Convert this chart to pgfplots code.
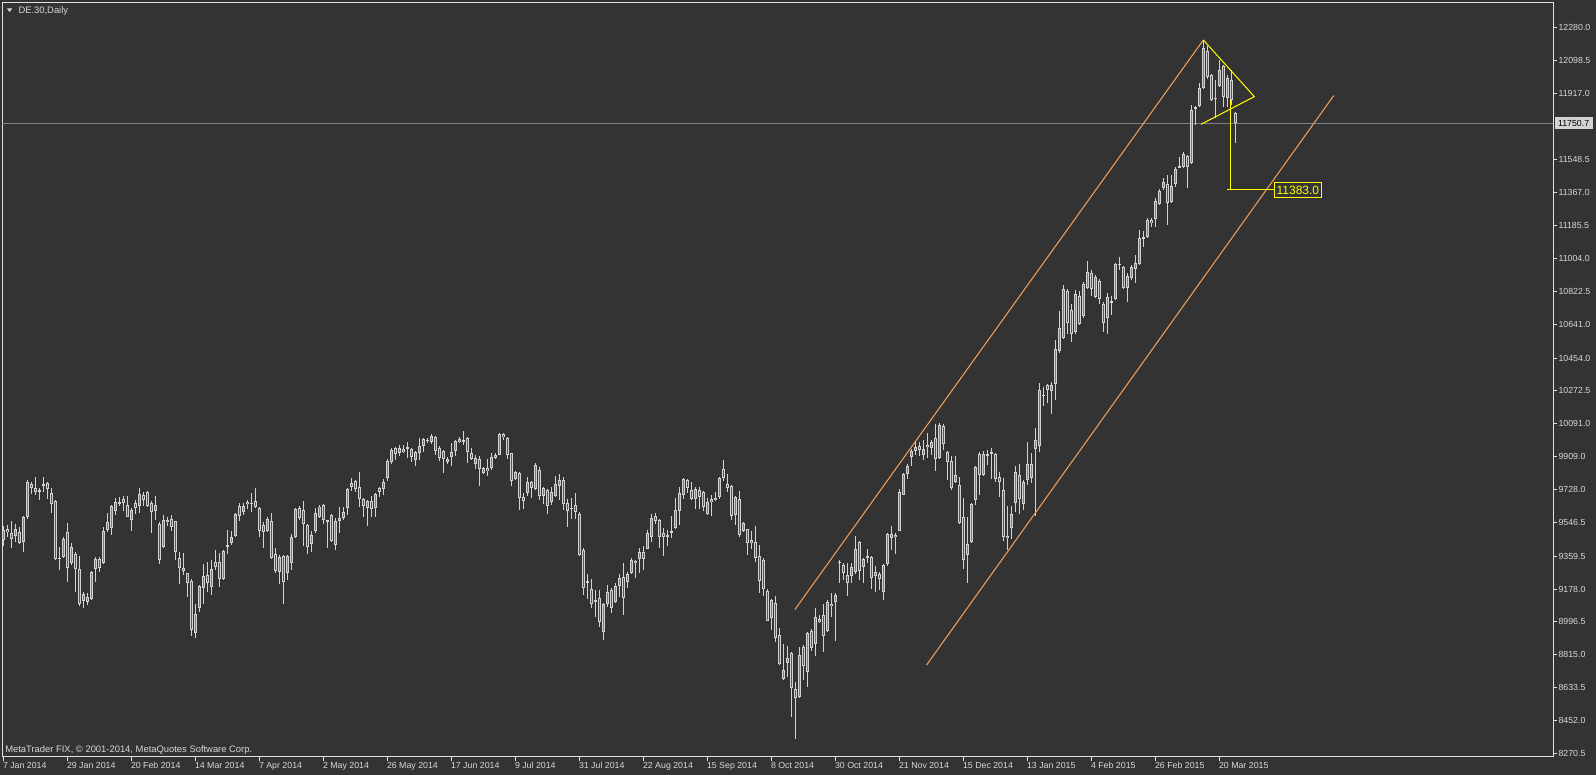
\documentclass[border=0pt]{standalone}
\usepackage{pgfplots}
\usepackage{pgfplotstable}
\usepackage{fontspec}
\setmainfont{Liberation Sans}
\pgfplotsset{compat=1.18}
\definecolor{bg}{HTML}{333333}
\definecolor{fg}{HTML}{D8D8D8}
\definecolor{frame}{HTML}{E0E0E0}
\definecolor{cgray}{HTML}{D3D3D3}
\definecolor{cblue}{HTML}{1E90FF}
\definecolor{cred}{HTML}{C0282D}
\definecolor{chan}{HTML}{F4A460}
\definecolor{plin}{HTML}{808080}
\definecolor{yel}{HTML}{FFFF00}

\pgfplotstableread{
k o h l c
0 9448 9527 9414 9504
1 9510 9533 9467 9491
2 9486 9555 9407 9452
3 9473 9538 9439 9508
4 9491 9519 9429 9433
5 9439 9579 9383 9576
6 9575 9782 9564 9768
7 9761 9770 9705 9736
8 9734 9796 9696 9715
9 9724 9734 9668 9717
10 9748 9795 9714 9757
11 9766 9770 9676 9733
12 9707 9735 9598 9650
13 9666 9672 9338 9344
14 9352 9410 9282 9342
15 9356 9465 9347 9456
16 9494 9545 9217 9292
17 9320 9432 9311 9410
18 9372 9383 9162 9287
19 9288 9363 9084 9093
20 9114 9159 9071 9150
21 9108 9155 9090 9133
22 9125 9275 9119 9271
23 9287 9355 9218 9345
24 9344 9354 9273 9297
25 9323 9521 9319 9501
26 9503 9597 9494 9546
27 9513 9644 9475 9638
28 9610 9679 9586 9657
29 9651 9685 9636 9659
30 9674 9693 9610 9651
31 9643 9694 9574 9577
32 9562 9624 9499 9615
33 9653 9670 9595 9623
34 9636 9736 9599 9704
35 9697 9716 9637 9669
36 9712 9722 9631 9637
37 9652 9667 9487 9602
38 9610 9693 9558 9642
39 9539 9547 9314 9340
40 9411 9589 9407 9561
41 9546 9578 9526 9560
42 9565 9588 9500 9522
43 9552 9556 9337 9384
44 9348 9382 9204 9297
45 9294 9376 9254 9279
46 9266 9269 9134 9209
47 9222 9231 8916 8954
48 8937 9098 8905 9042
49 9071 9200 9050 9193
50 9181 9318 9097 9251
51 9256 9328 9163 9209
52 9191 9341 9144 9290
53 9326 9395 9282 9301
54 9327 9377 9190 9231
55 9232 9395 9226 9386
56 9408 9505 9374 9419
57 9430 9496 9421 9468
58 9470 9597 9466 9592
59 9634 9656 9555 9583
60 9602 9652 9587 9637
61 9646 9670 9618 9659
62 9651 9711 9604 9653
63 9664 9736 9623 9633
64 9625 9631 9466 9500
65 9531 9551 9405 9491
66 9500 9575 9494 9565
67 9556 9599 9346 9350
68 9372 9404 9267 9279
69 9271 9367 9207 9357
70 9358 9368 9096 9218
71 9267 9367 9230 9361
72 9323 9482 9281 9463
73 9466 9625 9462 9620
74 9628 9634 9559 9572
75 9612 9663 9413 9535
76 9532 9539 9374 9412
77 9425 9496 9384 9477
78 9498 9625 9485 9597
79 9577 9643 9568 9634
80 9641 9647 9540 9559
81 9555 9558 9405 9553
82 9589 9594 9439 9444
83 9424 9570 9392 9555
84 9556 9631 9490 9569
85 9572 9630 9559 9602
86 9627 9736 9586 9732
87 9743 9790 9719 9762
88 9775 9781 9715 9730
89 9740 9823 9632 9673
90 9676 9680 9576 9636
91 9623 9670 9524 9664
92 9666 9693 9576 9618
93 9623 9711 9576 9704
94 9735 9744 9688 9716
95 9728 9784 9696 9768
96 9792 9895 9775 9885
97 9877 9956 9871 9946
98 9956 9965 9890 9922
99 9932 9973 9913 9955
100 9936 9973 9927 9949
101 9955 9988 9904 9960
102 9952 9956 9881 9909
103 9890 9941 9858 9933
104 9927 10011 9889 9968
105 9970 10011 9936 10005
106 9995 10014 9982 10004
107 9991 10034 9978 10025
108 10020 10026 9917 9942
109 9956 9969 9886 9903
110 9941 9946 9821 9899
111 9881 9909 9866 9899
112 9909 9984 9858 9933
113 9942 10002 9913 9996
114 9991 10016 9987 10006
115 9997 10051 9976 9999
116 10011 10017 9876 9936
117 9928 9959 9890 9899
118 9867 9919 9839 9900
119 9895 9914 9747 9839
120 9820 9854 9812 9844
121 9844 9897 9801 9831
122 9849 9928 9838 9909
123 9903 9928 9894 9918
124 9921 10039 9917 10033
125 10034 10038 10001 10016
126 10011 10017 9898 9921
127 9929 9932 9747 9775
128 9785 9830 9780 9823
129 9818 9824 9616 9681
130 9684 9707 9622 9665
131 9706 9796 9691 9768
132 9768 9775 9683 9738
133 9729 9873 9723 9864
134 9837 9850 9672 9691
135 9692 9744 9650 9735
136 9726 9732 9595 9636
137 9660 9744 9641 9712
138 9692 9803 9687 9756
139 9749 9812 9668 9781
140 9782 9797 9613 9650
141 9652 9677 9521 9611
142 9627 9680 9567 9620
143 9642 9708 9567 9601
144 9593 9602 9358 9364
145 9396 9405 9143 9186
146 9220 9263 9122 9210
147 9179 9233 9074 9098
148 9109 9171 9025 9119
149 9128 9171 8969 8997
150 8943 9102 8896 9098
151 9095 9202 9080 9161
152 9175 9181 9044 9076
153 9105 9212 9099 9197
154 9196 9260 9135 9238
155 9244 9323 9032 9126
156 9215 9270 9185 9260
157 9269 9349 9261 9336
158 9321 9340 9240 9334
159 9342 9404 9268 9382
160 9382 9414 9283 9342
161 9402 9505 9399 9487
162 9463 9594 9439 9570
163 9582 9597 9537 9556
164 9561 9566 9405 9463
165 9487 9515 9361 9468
166 9475 9505 9417 9472
167 9489 9579 9461 9497
168 9513 9682 9509 9616
169 9610 9740 9530 9708
170 9700 9790 9678 9784
171 9781 9784 9706 9734
172 9725 9772 9669 9675
173 9675 9744 9622 9731
174 9725 9739 9622 9688
175 9713 9721 9608 9633
176 9590 9683 9586 9657
177 9657 9698 9582 9674
178 9669 9716 9663 9682
179 9687 9796 9674 9790
180 9839 9891 9775 9794
181 9756 9812 9715 9734
182 9748 9753 9562 9581
183 9587 9690 9534 9684
184 9677 9722 9465 9474
185 9500 9550 9494 9541
186 9511 9511 9365 9430
187 9430 9500 9399 9447
188 9437 9525 9325 9347
189 9362 9420 9156 9224
190 9336 9349 9139 9180
191 9165 9180 9000 9002
192 9017 9125 8951 9120
193 9101 9142 8885 8908
194 8926 8960 8757 8763
195 8679 8875 8675 8731
196 8769 8862 8694 8797
197 8823 8829 8473 8630
198 8624 8666 8352 8574
199 8580 8856 8574 8814
200 8860 8869 8676 8755
201 8722 8943 8639 8937
202 8946 8957 8838 8851
203 8873 9072 8808 9026
204 8994 9035 8989 9011
205 9035 9096 8832 8921
206 8948 9118 8943 9105
207 9096 9154 9026 9084
208 9105 9158 8893 9145
209 9323 9340 9212 9327
210 9312 9321 9227 9265
211 9253 9322 9140 9210
212 9252 9321 9209 9298
213 9272 9469 9263 9398
214 9438 9442 9226 9279
215 9298 9349 9209 9343
216 9354 9401 9320 9361
217 9355 9358 9180 9237
218 9274 9308 9162 9250
219 9261 9274 9171 9231
220 9163 9316 9116 9313
221 9315 9488 9306 9484
222 9459 9524 9393 9481
223 9464 9490 9370 9477
224 9499 9731 9497 9714
225 9700 9818 9696 9814
226 9813 9868 9785 9860
227 9905 9950 9858 9941
228 9942 9996 9917 9964
229 9968 9992 9913 9945
230 9921 10002 9893 9949
231 9960 10039 9904 9972
232 9955 10002 9917 9988
233 10011 10092 9829 9898
234 9903 10094 9897 10085
235 10079 10091 9944 9982
236 9934 9938 9782 9878
237 9886 9911 9727 9736
238 9770 9911 9761 9808
239 9754 9796 9539 9543
240 9575 9680 9290 9337
241 9366 9578 9210 9428
242 9438 9653 9432 9648
243 9668 9856 9644 9850
244 9926 9935 9695 9808
245 9807 9938 9801 9925
246 9924 9946 9862 9913
247 9928 9957 9788 9936
248 9925 9928 9769 9788
249 9799 9827 9687 9771
250 9727 9793 9442 9465
251 9471 9636 9392 9458
252 9513 9635 9457 9593
253 9655 9859 9603 9822
254 9810 9866 9594 9678
255 9650 9782 9613 9767
256 9779 9988 9750 9869
257 9789 9929 9761 9870
258 9952 10068 9581 10003
259 9970 10317 9933 10280
260 10247 10294 10191 10252
261 10306 10310 10208 10278
262 10272 10319 10146 10306
263 10308 10551 10223 10504
264 10492 10713 10483 10619
265 10567 10856 10561 10837
266 10826 10836 10588 10645
267 10722 10755 10544 10585
268 10598 10832 10588 10810
269 10798 10823 10635 10641
270 10687 10872 10675 10863
271 10842 10988 10833 10928
272 10923 10942 10795 10833
273 10793 10914 10787 10901
274 10881 10890 10751 10778
275 10753 10766 10598 10648
276 10678 10813 10588 10791
277 10764 10799 10690 10767
278 10778 10979 10773 10973
279 10971 11014 10940 10975
280 10959 10963 10837 10843
281 10839 10922 10762 10907
282 10898 10968 10885 10955
283 10944 11023 10867 10977
284 10972 11161 10968 11115
285 11115 11158 11070 11123
286 11125 11230 11115 11217
287 11217 11226 11180 11198
288 11220 11336 11180 11323
289 11305 11386 11300 11377
290 11392 11447 11382 11428
291 11414 11465 11189 11309
292 11318 11465 11309 11404
293 11416 11511 11401 11497
294 11508 11566 11502 11513
295 11508 11594 11502 11579
296 11570 11576 11395 11508
297 11530 11852 11524 11824
298 11833 11846 11741 11839
299 11846 11972 11843 11944
300 11944 12211 11940 12169
301 12150 12180 11995 12005
302 12018 12021 11874 11880
303 11892 11990 11778 11889
304 11957 12100 11953 12045
305 12067 12073 11843 11898
306 11892 12018 11843 11999
307 11990 12045 11852 11880
308 11806 11811 11644 11751
}\data

\pgfplotsset{
  candle/.style={draw=none, mark=none, forget plot,
    /pgfplots/error bars/y explicit,
    /pgfplots/error bars/error mark=none},
}

\begin{document}
\begin{tikzpicture}
\fill[bg] (-2.3pt,-18pt) rectangle (1593.7pt,757pt);
\begin{axis}[
  at={(0,0)}, anchor=south west,
  scale only axis, width=1551pt, height=754.7pt,
  xmin=-0.25, xmax=387.5, ymin=8250.2, ymax=12419.2,
  scaled x ticks=false, scaled y ticks=false,
  axis line style={draw=frame, line width=1pt},
  tick align=outside, major tick length=4pt,
  tick style={draw=frame, line width=1pt},
  xtick pos=bottom, ytick pos=right, yticklabel pos=right,
  xtick={0,16,...,304},
  xticklabels={7 Jan 2014, 29 Jan 2014, 20 Feb 2014, 14 Mar 2014, 7 Apr 2014, 2 May 2014, 26 May 2014, 17 Jun 2014, 9 Jul 2014, 31 Jul 2014, 22 Aug 2014, 15 Sep 2014, 8 Oct 2014, 30 Oct 2014, 21 Nov 2014, 15 Dec 2014, 13 Jan 2015, 4 Feb 2015, 26 Feb 2015, 20 Mar 2015},
  ytick={12280,12098.5,11917,11548.5,11367,11185.5,11004,10822.5,10641,10454,10272.5,10091,9909,9728,9546.5,9359.5,9178,8996.5,8815,8633.5,8452,8270.5},
  yticklabels={12280.0,12098.5,11917.0,11548.5,11367.0,11185.5,11004.0,10822.5,10641.0,10454.0,10272.5,10091.0,9909.0,9728.0,9546.5,9359.5,9178.0,8996.5,8815.0,8633.5,8452.0,8270.5},
  tick label style={text=fg, font=\fontsize{8.8}{10}\selectfont},
  xticklabel style={anchor=north west, inner sep=0pt, xshift=-0.5pt, yshift=-1pt},
  yticklabel style={anchor=west, inner sep=0pt, xshift=1pt},
  clip=true,
]
% current price line
\addplot[plin, line width=1pt, forget plot] coordinates {(-0.25,11750.7) (387.5,11750.7)};
% wicks
\addplot[candle, error bars/y dir=minus,
  error bars/error bar style={draw=cgray, line width=1pt}]
  table[x=k, y=h, y error minus expr={\thisrow{h}-\thisrow{l}}] {\data};
% body outlines
\addplot[candle, error bars/y dir=both,
  error bars/error bar style={draw=cgray, line width=3pt}]
  table[x=k, y expr={(\thisrow{o}+\thisrow{c})/2}, y error expr={max(abs(\thisrow{c}-\thisrow{o})/2,2.8)}] {\data};
% bull fill
\addplot[candle, error bars/y dir=both,
  error bars/error bar style={draw=cblue, line width=1pt}]
  table[x=k, y expr={\thisrow{c}>\thisrow{o} ? (\thisrow{o}+\thisrow{c})/2 : nan}, y error expr={max(abs(\thisrow{c}-\thisrow{o})/2-5.5,0)}] {\data};
% bear fill
\addplot[candle, error bars/y dir=both,
  error bars/error bar style={draw=cred, line width=1pt}]
  table[x=k, y expr={\thisrow{c}<\thisrow{o} ? (\thisrow{o}+\thisrow{c})/2 : nan}, y error expr={max(abs(\thisrow{c}-\thisrow{o})/2-5.5,0)}] {\data};
% channel
\addplot[chan, line width=1pt, forget plot] coordinates {(197.9,9065) (300,12211)};
\addplot[chan, line width=1pt, forget plot] coordinates {(230.8,8758) (332.6,11904)};
% triangle and target
\addplot[yel, line width=1pt, forget plot] coordinates {(300,12211) (312.75,11898) (299.4,11745)};
\addplot[yel, line width=1pt, forget plot] coordinates {(306.9,11879.5) (306.9,11383)};
\addplot[yel, line width=1pt, forget plot] coordinates {(306,11383) (317.7,11383)};
\node[draw=yel, line width=1pt, fill=bg, text=yel, anchor=west, inner xsep=2pt, inner ysep=3pt,
  text height=8.6pt, text depth=0pt, font=\fontsize{12}{14}\selectfont] at (axis cs:317.7,11383) {11383.0};
\end{axis}
% current price box on the price scale
\node[fill=cgray, text=black, anchor=west, inner xsep=3.5pt, inner ysep=0pt, minimum height=12pt,
  font=\fontsize{8.8}{10}\selectfont] at (1552pt,{(11750.7-8250.2)/(12419.2-8250.2)*754.7pt}) {11750.7};
% title and copyright
\fill[fg] (4.7pt,748.5pt) -- (9.9pt,748.5pt) -- (7.3pt,745pt) -- cycle;
\node[anchor=west, inner sep=0pt, text=fg, font=\fontsize{9.4}{11}\selectfont] at (16pt,746pt) {DE.30,Daily};
\node[anchor=west, inner sep=0pt, text=fg, font=\fontsize{9.4}{11}\selectfont] at (2.8pt,7pt) {MetaTrader FIX, © 2001-2014, MetaQuotes Software Corp.};
\pgfresetboundingbox
\path[use as bounding box] (-2.3pt,-18pt) rectangle (1593.7pt,757pt);
\end{tikzpicture}
\end{document}
